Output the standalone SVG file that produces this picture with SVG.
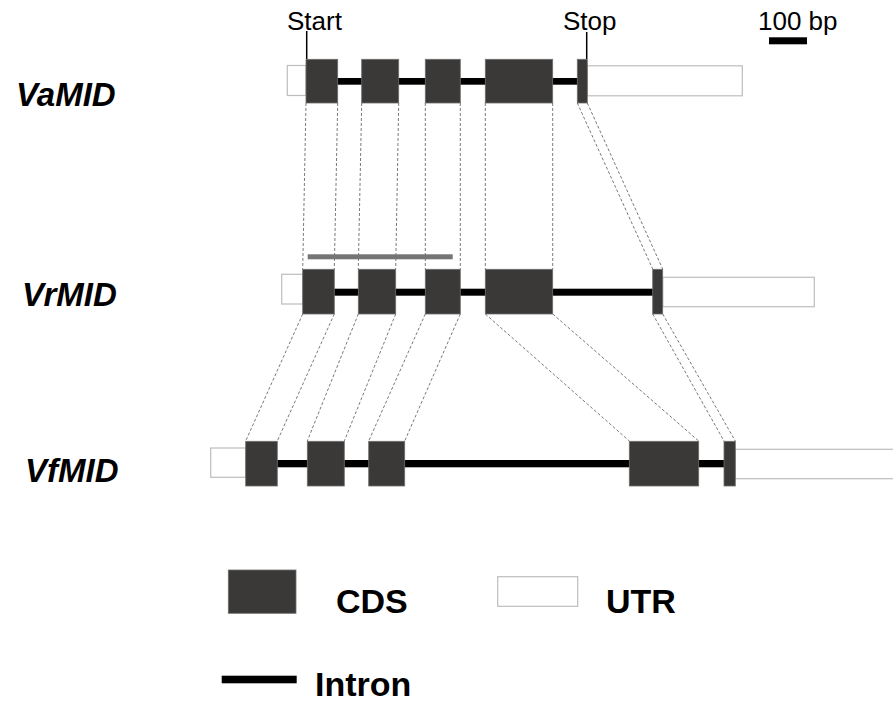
<svg xmlns="http://www.w3.org/2000/svg" width="893" height="704" viewBox="0 0 893 704">
<style>
.cds{fill:#3a3938;stroke:#6e6e6e;stroke-width:0.8}
.utr{fill:#fff;stroke:#bdbdbd;stroke-width:1.2}
.intron{fill:#000}
.tick{stroke:#000;stroke-width:1.5}
.con{stroke:#7a7a7a;stroke-width:1;stroke-dasharray:3 2;fill:none}
.lbl{font-family:"Liberation Sans",Arial,sans-serif;font-weight:bold;font-style:italic;font-size:33px;fill:#000}
.txt{font-family:"Liberation Sans",Arial,sans-serif;font-size:26px;fill:#000}
.leg{font-family:"Liberation Sans",Arial,sans-serif;font-weight:bold;font-size:34px;fill:#000}
</style>
<rect width="893" height="704" fill="#fff"/>
<g id="connectors">
<line class="con" x1="306" y1="103" x2="302.7" y2="269"/>
<line class="con" x1="337.7" y1="103" x2="334.3" y2="269"/>
<line class="con" x1="361.7" y1="103" x2="358.3" y2="269"/>
<line class="con" x1="398.7" y1="103" x2="395.7" y2="269"/>
<line class="con" x1="425.3" y1="103" x2="425.3" y2="269"/>
<line class="con" x1="460.3" y1="103" x2="460.3" y2="269"/>
<line class="con" x1="485.3" y1="103" x2="485.3" y2="269"/>
<line class="con" x1="552.7" y1="103" x2="552.7" y2="269"/>
<line class="con" x1="577.3" y1="103" x2="652.7" y2="269"/>
<line class="con" x1="587.3" y1="103" x2="662.7" y2="269"/>
<line class="con" x1="302.7" y1="314" x2="245.7" y2="441"/>
<line class="con" x1="334.3" y1="314" x2="277.3" y2="441"/>
<line class="con" x1="358.3" y1="314" x2="307.3" y2="441"/>
<line class="con" x1="395.7" y1="314" x2="344.3" y2="441"/>
<line class="con" x1="425.3" y1="314" x2="368.7" y2="441"/>
<line class="con" x1="460.3" y1="314" x2="404.7" y2="441"/>
<line class="con" x1="485.3" y1="314" x2="629.3" y2="441"/>
<line class="con" x1="552.7" y1="314" x2="698.7" y2="441"/>
<line class="con" x1="652.7" y1="314" x2="724" y2="441"/>
<line class="con" x1="662.7" y1="314" x2="735.3" y2="441"/>
</g>
<g id="header">
<text class="txt" x="287" y="30">Start</text>
<line class="tick" x1="306.7" y1="31" x2="306.7" y2="59"/>
<text class="txt" x="563" y="29.5">Stop</text>
<line class="tick" x1="586.7" y1="32" x2="586.7" y2="59"/>
<text class="txt" x="758" y="29.5">100 bp</text>
<rect x="769" y="37.3" width="38" height="7" fill="#000"/>
</g>
<g id="VaMID">
<text class="lbl" x="16" y="106">VaMID</text>
<rect class="utr" x="287.3" y="65.5" width="18.7" height="30"/>
<rect class="utr" x="587.3" y="65.8" width="155" height="30"/>
<rect class="intron" x="337" y="78" width="241" height="6.7"/>
<rect class="cds" x="306" y="59.3" width="31.7" height="43.7"/>
<rect class="cds" x="361.7" y="59.3" width="37" height="43.7"/>
<rect class="cds" x="425.3" y="59.3" width="35" height="43.7"/>
<rect class="cds" x="485.3" y="59.3" width="67.4" height="43.7"/>
<rect class="cds" x="577.3" y="59.3" width="10" height="43.7"/>
</g>
<g id="VrMID">
<text class="lbl" x="22" y="306">VrMID</text>
<rect x="307.7" y="254.3" width="145" height="5" fill="#767474"/>
<rect class="utr" x="281.7" y="274.3" width="21" height="29.7"/>
<rect class="utr" x="662.7" y="277.3" width="151.6" height="29.4"/>
<rect class="intron" x="334" y="288.7" width="319" height="7"/>
<rect class="cds" x="302.7" y="269.3" width="31.6" height="44.7"/>
<rect class="cds" x="358.3" y="269.3" width="37.4" height="44.7"/>
<rect class="cds" x="425.3" y="269.3" width="35" height="44.7"/>
<rect class="cds" x="485.3" y="269.3" width="67.4" height="44.7"/>
<rect class="cds" x="652.7" y="269.3" width="10" height="44.7"/>
</g>
<g id="VfMID">
<text class="lbl" x="25" y="482.3">VfMID</text>
<rect class="utr" x="210.7" y="448" width="35" height="29.3"/>
<rect class="utr" x="735.3" y="449.3" width="170" height="29.4"/>
<rect class="intron" x="277" y="460" width="448" height="7.3"/>
<rect class="cds" x="245.7" y="441.3" width="31.6" height="44.7"/>
<rect class="cds" x="307.3" y="441.3" width="37" height="44.7"/>
<rect class="cds" x="368.7" y="441.3" width="36" height="44.7"/>
<rect class="cds" x="629.3" y="441.3" width="69.4" height="44.7"/>
<rect class="cds" x="724" y="441.3" width="11.3" height="44.7"/>
</g>
<g id="legend">
<rect class="cds" x="228.3" y="570" width="67.7" height="43.3"/>
<text class="leg" x="336" y="613.3">CDS</text>
<rect class="utr" x="497.7" y="576.7" width="80" height="29.6"/>
<text class="leg" x="606" y="613.3">UTR</text>
<rect class="intron" x="221.7" y="675.7" width="75" height="7.6"/>
<text class="leg" x="315" y="696">Intron</text>
</g>
</svg>
